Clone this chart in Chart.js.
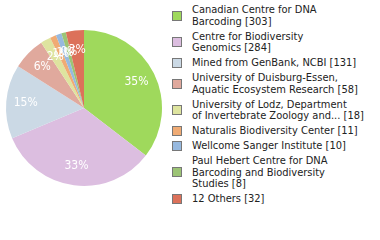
<!DOCTYPE html>
<html>
<head>
<meta charset="utf-8">
<script src="https://cdn.jsdelivr.net/npm/chart.js@4"></script>
<style>
  body { margin: 0; width: 380px; height: 240px; background: #fff; overflow: hidden; position: relative; }
  #wrap { position: absolute; left: 0; top: 0; width: 168px; height: 216px; }
  #legend { position: absolute; left: 172px; top: 4px; width: 208px; font: 11px "DejaVu Sans Condensed", "DejaVu Sans", sans-serif; color: #222; }
  .item { position: relative; padding-left: 20px; line-height: 11.8px; margin-bottom: 3px; }
  .box { position: absolute; left: 0; top: 50%; margin-top: -5px; width: 8px; height: 8px; border: 1px solid #777; }
</style>
</head>
<body>
<div id="wrap"><canvas id="pie"></canvas></div>
<div id="legend"></div>
<script>
// data
const labels = [
    'Canadian Centre for DNA Barcoding',
    'Centre for Biodiversity Genomics',
    'Mined from GenBank, NCBI',
    'University of Duisburg-Essen, Aquatic Ecosystem Research',
    'University of Lodz, Department of Invertebrate Zoology and...',
    'Naturalis Biodiversity Center',
    'Wellcome Sanger Institute',
    'Paul Hebert Centre for DNA Barcoding and Biodiversity Studies',
    '12 Others'
];
// how the legend text wraps in the picture
const legendLines = [
    ['Canadian Centre for DNA', 'Barcoding'],
    ['Centre for Biodiversity', 'Genomics'],
    ['Mined from GenBank, NCBI'],
    ['University of Duisburg-Essen,', 'Aquatic Ecosystem Research'],
    ['University of Lodz, Department', 'of Invertebrate Zoology and...'],
    ['Naturalis Biodiversity Center'],
    ['Wellcome Sanger Institute'],
    ['Paul Hebert Centre for DNA', 'Barcoding and Biodiversity', 'Studies'],
    ['12 Others']
];
const counts = [303, 284, 131, 58, 18, 11, 10, 8, 32];
const colors = ['#9fd95c', '#dcbee0', '#cbd9e5', '#e0a99d', '#dee49f', '#f0ab74', '#97b9df', '#9cc475', '#dc715a'];

const total = counts.reduce((a, b) => a + b, 0);

// white percent labels inside the slices
const pctLabels = {
    id: 'pctLabels',
    afterDatasetsDraw(chart) {
        const ctx = chart.ctx;
        const meta = chart.getDatasetMeta(0);
        ctx.save();
        ctx.fillStyle = '#fff';
        ctx.font = '12px "DejaVu Sans Condensed", "DejaVu Sans", sans-serif';
        ctx.textAlign = 'center';
        ctx.textBaseline = 'middle';
        meta.data.forEach(function(arc, i) {
            const mid = (arc.startAngle + arc.endAngle) / 2;
            const r = arc.outerRadius * 0.75;
            const pct = Math.floor(counts[i] / total * 100) + '%';
            ctx.fillText(pct, arc.x + Math.cos(mid) * r, arc.y + Math.sin(mid) * r);
        });
        ctx.restore();
    }
};

window.onload = function() {
    var ctx = document.getElementById('pie').getContext('2d');
    new Chart(ctx, {
        type: 'pie',
        data: {
            labels: labels,
            datasets: [{
                data: counts,
                backgroundColor: colors,
                borderWidth: 0
            }]
        },
        options: {
            responsive: true,
            maintainAspectRatio: false,
            animation: false,
            layout: { padding: 6 },
            plugins: { legend: { display: false }, tooltip: { enabled: false } }
        },
        plugins: [pctLabels]
    });

    var html = '';
    legendLines.forEach(function(lines, i) {
        var txt = lines.slice();
        txt[txt.length - 1] += ' [' + counts[i] + ']';
        html += '<div class="item"><span class="box" style="background:' + colors[i] + '"></span>' + txt.join('<br>') + '</div>';
    });
    document.getElementById('legend').innerHTML = html;
};
</script>
</body>
</html>
